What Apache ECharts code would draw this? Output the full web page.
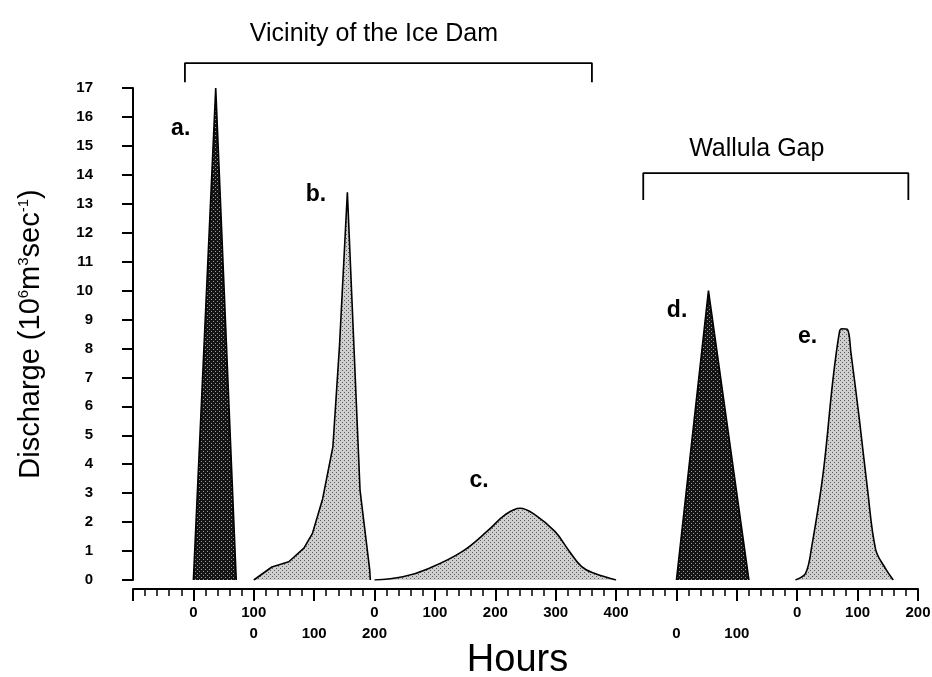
<!DOCTYPE html>
<html>
<head>
<meta charset="utf-8">
<script src="https://cdn.jsdelivr.net/npm/echarts@6/dist/echarts.min.js"></script>
<style>
html,body{margin:0;padding:0;background:#fff;}
#chart{width:932px;height:677px;}
</style>
</head>
<body>
<div id="chart"></div>
<script>
// ---- Data (hours are local to each hydrograph's own time scale) ----
const hoursA = [0, 37, 71];
const dischargeA = [0, 17, 0];

const hoursB = [0, 30, 58, 83, 97, 114, 131, 142, 155, 176, 192, 193];
const dischargeB = [0, 0.45, 0.63, 1.1, 1.6, 2.8, 4.6, 8.1, 13.4, 3.1, 0.35, 0];

const hoursC = [0, 47, 90, 145, 189, 216, 241, 266, 299, 321, 343, 364, 400];
const dischargeC = [0, 0.11, 0.4, 0.98, 1.73, 2.25, 2.48, 2.25, 1.67, 1.04, 0.46, 0.23, 0];

const hoursD = [0, 53, 120];
const dischargeD = [0, 10, 0];

const hoursE = [-3, 14, 24, 43, 59, 70, 74, 83, 89, 103, 116, 130, 146, 159];
const dischargeE = [0, 0.24, 1.15, 3.7, 6.9, 8.58, 8.68, 8.66, 7.84, 5.53, 3.2, 1.04, 0.4, 0];

// where each hydrograph's hour 0 falls on the shared hour axis
const originA = 0, originB = 100, originC = 300, originD = 800, originE = 1000;

// tick labels (two rows of time scales)
const tickValues    = [-100, 0,   100,   200,  300,  400,   500,   600,   700,   800,  900,   1000, 1100,  1200];
const tickRowTop    = ['',   '0', '100', '',   '0',  '100', '200', '300', '400', '',   '',    '0',  '100', '200'];
const tickRowBottom = ['',   '',  '0',   '100','200','',    '',    '',    '',    '0',  '100', '',   '',    ''];

const yTicks = [0,1,2,3,4,5,6,7,8,9,10,11,12,13,14,15,16,17];

const panelLabels = ['a.', 'b.', 'c.', 'd.', 'e.'];
const panelLabelX = [-21, 203, 473, 801, 1017];
const panelLabelY = [15.6, 13.3, 3.42, 9.3, 8.4];

const groupTitles = ['Vicinity of the Ice Dam', 'Wallula Gap'];

// ---- Styling helpers ----
function pts(h, v, o) { return h.map((x, i) => [o + x, v[i]]); }

function stipple(base, dot, dots) {
  const c = document.createElement('canvas');
  c.width = 4; c.height = 4;
  const g = c.getContext('2d');
  g.fillStyle = base; g.fillRect(0, 0, 4, 4);
  g.fillStyle = dot;
  dots.forEach(d => g.fillRect(d[0], d[1], 1, 1));
  return { image: c, repeat: 'repeat' };
}

const FONT = '"Liberation Sans", Arial, Helvetica, sans-serif';
const LIGHT = stipple('#cfcfcf', '#5a5a5a', [[0, 0], [2, 2]]);
const DARK = stipple('#141414', '#9a9a9a', [[1, 1], [3, 3]]);

function hydro(name, h, v, o, fill, smooth) {
  return {
    name: name, type: 'line', data: pts(h, v, o), symbol: 'none',
    smooth: smooth,
    lineStyle: { color: '#000', width: 1.6 },
    areaStyle: { color: fill, opacity: 1 },
    z: 3
  };
}

function textSeries(data, size, weight) {
  return {
    type: 'scatter', clip: false, symbolSize: 0.1, silent: true, z: 6,
    itemStyle: { color: 'rgba(0,0,0,0)', opacity: 1 },
    data: data,
    label: { show: true, position: 'inside', formatter: p => p.data[2], opacity: 1,
      fontFamily: FONT, fontSize: size, fontWeight: weight, color: '#000', textBorderWidth: 0 }
  };
}

const chart = echarts.init(document.getElementById('chart'), null, { renderer: 'canvas' });

const option = {
  animation: false,
  backgroundColor: '#fff',
  grid: { left: 133, right: 14, top: 88, bottom: 97, containLabel: false, outerBoundsMode: 'none' },
  xAxis: {
    type: 'value', min: -100, max: 1200, interval: 100, offset: 9,
    name: 'Hours', nameLocation: 'middle', nameGap: 53, nameMoveOverlap: false,
    nameTextStyle: { fontFamily: FONT, fontSize: 38, color: '#000', padding: [0, 16, 0, 0] },
    axisLine: { show: true, onZero: false, lineStyle: { color: '#000', width: 2 } },
    axisTick: { show: true, inside: false, length: 12, lineStyle: { color: '#000', width: 2 } },
    minorTick: { show: true, splitNumber: 5, length: 7, lineStyle: { color: '#000', width: 1.5 } },
    splitLine: { show: false },
    axisLabel: {
      show: true, margin: 13, fontFamily: FONT, fontSize: 15, fontWeight: 'bold', color: '#000',
      lineHeight: 21, showMinLabel: true, showMaxLabel: true, hideOverlap: false,
      formatter: function (val) {
        const i = tickValues.indexOf(Math.round(val));
        if (i < 0) return '';
        const t = tickRowTop[i], b = tickRowBottom[i];
        if (!t && !b) return '';
        return t + '\n' + b;
      }
    }
  },
  yAxis: {
    type: 'value', min: yTicks[0], max: yTicks[yTicks.length - 1], interval: 1,
    name: 'Discharge (10{s|6}m{s|3}sec{s|-1})', nameLocation: 'middle', nameRotate: 90, nameGap: 88,
    nameMoveOverlap: false,
    nameTextStyle: {
      fontFamily: FONT, fontSize: 29, color: '#000',
      rich: { s: { fontFamily: FONT, fontSize: 15, verticalAlign: 'top', color: '#000', padding: [0, 0, 12, 0] } }
    },
    axisLine: { show: true, onZero: false, lineStyle: { color: '#000', width: 2 } },
    axisTick: { show: true, inside: false, length: 11, lineStyle: { color: '#000', width: 2 } },
    splitLine: { show: false },
    axisLabel: { margin: 40, fontFamily: FONT, fontSize: 15, fontWeight: 'bold', color: '#000' }
  },
  series: [
    hydro('a', hoursA, dischargeA, originA, DARK, false),
    hydro('b', hoursB, dischargeB, originB, LIGHT, false),
    hydro('c', hoursC, dischargeC, originC, LIGHT, 0.4),
    hydro('d', hoursD, dischargeD, originD, DARK, false),
    hydro('e', hoursE, dischargeE, originE, LIGHT, 0.35),
    { // bracket: Vicinity of the Ice Dam
      type: 'line', clip: false, symbol: 'none', silent: true, z: 5,
      data: [[-14, 17.2], [-14, 17.86], [660, 17.86], [660, 17.2]],
      lineStyle: { color: '#000', width: 1.8 }
    },
    { // bracket: Wallula Gap
      type: 'line', clip: false, symbol: 'none', silent: true, z: 5,
      data: [[745, 13.13], [745, 14.06], [1184, 14.06], [1184, 13.13]],
      lineStyle: { color: '#000', width: 1.8 }
    },
    textSeries(panelLabels.map((t, i) => [panelLabelX[i], panelLabelY[i], t]), 23, 'bold'),
    textSeries([[299, 18.85, groupTitles[0]], [933, 14.9, groupTitles[1]]], 25, 'normal')
  ]
};
chart.setOption(option);
</script>
</body>
</html>
